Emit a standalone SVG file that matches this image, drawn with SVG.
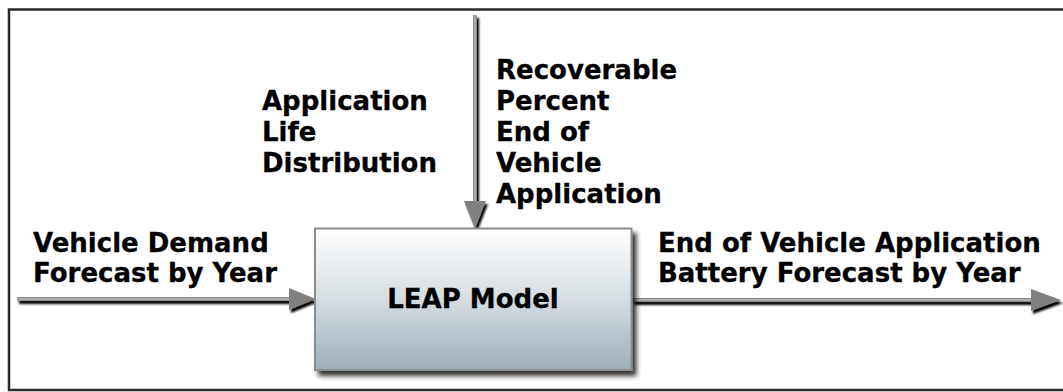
<svg xmlns="http://www.w3.org/2000/svg" width="1063" height="392" viewBox="0 0 1063 392">
  <defs>
    <linearGradient id="boxGrad" x1="0" y1="0" x2="0" y2="1">
      <stop offset="0" stop-color="#ffffff"/>
      <stop offset="0.5" stop-color="#d5dde2"/>
      <stop offset="1" stop-color="#9eaeb8"/>
    </linearGradient>
    <filter id="boxShadow" x="-10%" y="-10%" width="125%" height="130%">
      <feGaussianBlur in="SourceAlpha" stdDeviation="2.5"/>
      <feOffset dx="4" dy="5" result="b"/>
      <feComponentTransfer><feFuncA type="linear" slope="0.8"/></feComponentTransfer>
      <feMerge><feMergeNode/><feMergeNode in="SourceGraphic"/></feMerge>
    </filter>
    <filter id="arrowShadow" x="-20%" y="-40%" width="140%" height="180%">
      <feGaussianBlur in="SourceAlpha" stdDeviation="0.8"/>
      <feOffset dx="2" dy="3" result="b"/>
      <feComponentTransfer><feFuncA type="linear" slope="1"/></feComponentTransfer>
      <feMerge><feMergeNode/><feMergeNode in="SourceGraphic"/></feMerge>
    </filter>
  </defs>
  <style>
    .lbl { font-family: "DejaVu Sans", Verdana, sans-serif; font-weight: bold; font-size: 26px; fill: #000; stroke: #000; stroke-width: 0.3; }
    .shaft { stroke: #8a8a8a; stroke-width: 4; fill: none; }
    .hi { stroke: #cfcfcf; stroke-width: 1; fill: none; }
    .head { fill: #808080; }
  </style>
  <rect x="0" y="0" width="1063" height="392" fill="#ffffff"/>
  <rect id="frame" x="9" y="9.5" width="1070" height="380.5" fill="none" stroke="#2a2a2a" stroke-width="2.5"/>

  <g id="connectors">
    <g id="arrow-in-left" filter="url(#arrowShadow)">
      <line class="shaft" x1="17" y1="299" x2="292" y2="299"/>
      <line class="hi" x1="17" y1="299" x2="292" y2="299"/>
      <polygon class="head" points="289,288 316,299 289,310"/>
    </g>
    <g id="arrow-in-top" filter="url(#arrowShadow)">
      <line class="shaft" x1="475" y1="15" x2="475" y2="204"/>
      <line class="hi" x1="475" y1="15" x2="475" y2="204"/>
      <polygon class="head" points="464,201 475,229 486,201"/>
    </g>
    <g id="arrow-out-right" filter="url(#arrowShadow)">
      <line class="shaft" x1="632" y1="300" x2="1034" y2="300"/>
      <line class="hi" x1="632" y1="300" x2="1034" y2="300"/>
      <polygon class="head" points="1031,289 1061,300 1031,311"/>
    </g>
  </g>

  <g id="leap-model">
    <rect x="315" y="228.5" width="316.5" height="141.5" fill="url(#boxGrad)" stroke="#8c8c8c" stroke-width="2" filter="url(#boxShadow)"/>
    <text class="lbl" x="473" y="308" text-anchor="middle">LEAP Model</text>
  </g>

  <g id="label-vehicle-demand">
    <text class="lbl" x="33" y="252">Vehicle Demand</text>
    <text class="lbl" x="33" y="282">Forecast by Year</text>
  </g>

  <g id="label-application-life">
    <text class="lbl" x="262" y="110">Application</text>
    <text class="lbl" x="262" y="141">Life</text>
    <text class="lbl" x="262" y="172">Distribution</text>
  </g>

  <g id="label-recoverable">
    <text class="lbl" x="496" y="79">Recoverable</text>
    <text class="lbl" x="496" y="110">Percent</text>
    <text class="lbl" x="496" y="141">End of</text>
    <text class="lbl" x="496" y="172">Vehicle</text>
    <text class="lbl" x="496" y="203">Application</text>
  </g>

  <g id="label-output">
    <text class="lbl" x="658" y="252">End of Vehicle Application</text>
    <text class="lbl" x="658" y="282">Battery Forecast by Year</text>
  </g>
</svg>
